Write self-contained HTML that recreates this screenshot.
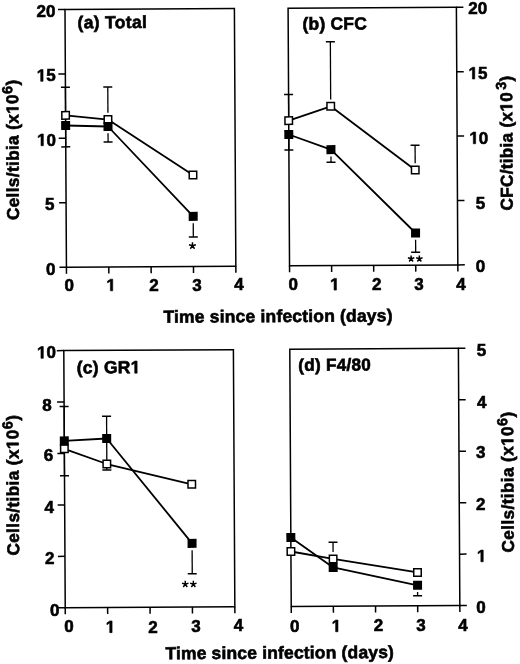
<!DOCTYPE html>
<html><head><meta charset="utf-8"><style>
html,body{margin:0;padding:0;background:#fff;}
svg{display:block;filter:grayscale(1);}
text{font-family:"Liberation Sans", sans-serif;font-weight:bold;fill:#000;stroke:#000;stroke-width:0.6px;}
.o1{fill:none;stroke:none;}
.g1{fill:#000;stroke:#000;stroke-width:0.6px;stroke-linejoin:round;}
</style></head><body>
<svg width="520" height="664" viewBox="0 0 520 664">
<rect width="520" height="664" fill="#fff"/>
<g transform="rotate(-0.3200 260 332)">
<rect x="66.8" y="8.4" width="169.40" height="257.70" fill="none" stroke="#000" stroke-width="1.5"/>
<line x1="66.80" y1="266.1" x2="66.80" y2="272.6" stroke="#000" stroke-width="1.5"/>
<line x1="109.15" y1="266.1" x2="109.15" y2="272.6" stroke="#000" stroke-width="1.5"/>
<line x1="151.50" y1="266.1" x2="151.50" y2="272.6" stroke="#000" stroke-width="1.5"/>
<line x1="193.85" y1="266.1" x2="193.85" y2="272.6" stroke="#000" stroke-width="1.5"/>
<line x1="236.20" y1="266.1" x2="236.20" y2="272.6" stroke="#000" stroke-width="1.5"/>
<line x1="59.8" y1="266.10" x2="66.8" y2="266.10" stroke="#000" stroke-width="1.5"/>
<line x1="59.8" y1="201.68" x2="66.8" y2="201.68" stroke="#000" stroke-width="1.5"/>
<line x1="59.8" y1="137.25" x2="66.8" y2="137.25" stroke="#000" stroke-width="1.5"/>
<line x1="59.8" y1="72.82" x2="66.8" y2="72.82" stroke="#000" stroke-width="1.5"/>
<line x1="59.8" y1="8.40" x2="66.8" y2="8.40" stroke="#000" stroke-width="1.5"/>
<polyline points="66.80,114.30 109.15,118.75 193.85,174.70" fill="none" stroke="#000" stroke-width="1.8" stroke-linejoin="round"/>
<polyline points="66.80,124.40 109.15,125.65 193.85,216.00" fill="none" stroke="#000" stroke-width="1.8" stroke-linejoin="round"/>
<line x1="66.80" y1="114.30" x2="66.80" y2="86.10" stroke="#000" stroke-width="1.3"/>
<line x1="62.30" y1="86.10" x2="71.30" y2="86.10" stroke="#000" stroke-width="1.5"/>
<line x1="66.80" y1="124.40" x2="66.80" y2="145.80" stroke="#000" stroke-width="1.3"/>
<line x1="62.30" y1="145.80" x2="71.30" y2="145.80" stroke="#000" stroke-width="1.5"/>
<line x1="109.15" y1="111.95" x2="109.15" y2="86.15" stroke="#000" stroke-width="1.3"/>
<line x1="104.65" y1="86.15" x2="113.65" y2="86.15" stroke="#000" stroke-width="1.5"/>
<line x1="109.15" y1="132.45" x2="109.15" y2="141.15" stroke="#000" stroke-width="1.3"/>
<line x1="104.65" y1="141.15" x2="113.65" y2="141.15" stroke="#000" stroke-width="1.5"/>
<line x1="193.85" y1="222.80" x2="193.85" y2="236.60" stroke="#000" stroke-width="1.3"/>
<line x1="189.35" y1="236.60" x2="198.35" y2="236.60" stroke="#000" stroke-width="1.5"/>
<rect x="63.05" y="110.55" width="7.50" height="7.50" fill="#fff" stroke="#000" stroke-width="1.5"/>
<rect x="105.40" y="115.00" width="7.50" height="7.50" fill="#fff" stroke="#000" stroke-width="1.5"/>
<rect x="190.10" y="170.95" width="7.50" height="7.50" fill="#fff" stroke="#000" stroke-width="1.5"/>
<rect x="62.30" y="119.90" width="9.00" height="9.00" fill="#000"/>
<rect x="104.65" y="121.15" width="9.00" height="9.00" fill="#000"/>
<rect x="189.35" y="211.50" width="9.00" height="9.00" fill="#000"/>
<rect x="289.9" y="8.4" width="168.30" height="257.60" fill="none" stroke="#000" stroke-width="1.5"/>
<line x1="289.90" y1="266.0" x2="289.90" y2="272.5" stroke="#000" stroke-width="1.5"/>
<line x1="331.97" y1="266.0" x2="331.97" y2="272.5" stroke="#000" stroke-width="1.5"/>
<line x1="374.05" y1="266.0" x2="374.05" y2="272.5" stroke="#000" stroke-width="1.5"/>
<line x1="416.12" y1="266.0" x2="416.12" y2="272.5" stroke="#000" stroke-width="1.5"/>
<line x1="458.20" y1="266.0" x2="458.20" y2="272.5" stroke="#000" stroke-width="1.5"/>
<line x1="458.2" y1="266.00" x2="465.2" y2="266.00" stroke="#000" stroke-width="1.5"/>
<line x1="458.2" y1="201.60" x2="465.2" y2="201.60" stroke="#000" stroke-width="1.5"/>
<line x1="458.2" y1="137.20" x2="465.2" y2="137.20" stroke="#000" stroke-width="1.5"/>
<line x1="458.2" y1="72.80" x2="465.2" y2="72.80" stroke="#000" stroke-width="1.5"/>
<line x1="458.2" y1="8.40" x2="465.2" y2="8.40" stroke="#000" stroke-width="1.5"/>
<polyline points="289.90,120.80 331.97,106.70 416.12,170.87" fill="none" stroke="#000" stroke-width="1.8" stroke-linejoin="round"/>
<polyline points="289.90,134.66 331.97,150.00 416.12,233.87" fill="none" stroke="#000" stroke-width="1.8" stroke-linejoin="round"/>
<line x1="289.90" y1="120.80" x2="289.90" y2="94.76" stroke="#000" stroke-width="1.3"/>
<line x1="285.40" y1="94.76" x2="294.40" y2="94.76" stroke="#000" stroke-width="1.5"/>
<line x1="289.90" y1="134.66" x2="289.90" y2="150.16" stroke="#000" stroke-width="1.3"/>
<line x1="285.40" y1="150.16" x2="294.40" y2="150.16" stroke="#000" stroke-width="1.5"/>
<line x1="331.97" y1="99.90" x2="331.97" y2="42.20" stroke="#000" stroke-width="1.3"/>
<line x1="327.47" y1="42.20" x2="336.47" y2="42.20" stroke="#000" stroke-width="1.5"/>
<line x1="331.97" y1="156.80" x2="331.97" y2="162.70" stroke="#000" stroke-width="1.3"/>
<line x1="327.47" y1="162.70" x2="336.47" y2="162.70" stroke="#000" stroke-width="1.5"/>
<line x1="416.12" y1="164.07" x2="416.12" y2="146.20" stroke="#000" stroke-width="1.3"/>
<line x1="411.62" y1="146.20" x2="420.62" y2="146.20" stroke="#000" stroke-width="1.5"/>
<line x1="416.12" y1="240.67" x2="416.12" y2="253.20" stroke="#000" stroke-width="1.3"/>
<line x1="411.62" y1="253.20" x2="420.62" y2="253.20" stroke="#000" stroke-width="1.5"/>
<rect x="286.15" y="117.05" width="7.50" height="7.50" fill="#fff" stroke="#000" stroke-width="1.5"/>
<rect x="328.22" y="102.95" width="7.50" height="7.50" fill="#fff" stroke="#000" stroke-width="1.5"/>
<rect x="412.38" y="167.12" width="7.50" height="7.50" fill="#fff" stroke="#000" stroke-width="1.5"/>
<rect x="285.40" y="130.16" width="9.00" height="9.00" fill="#000"/>
<rect x="327.47" y="145.50" width="9.00" height="9.00" fill="#000"/>
<rect x="411.62" y="229.37" width="9.00" height="9.00" fill="#000"/>
<rect x="63.7" y="349.5" width="169.60" height="257.20" fill="none" stroke="#000" stroke-width="1.5"/>
<line x1="63.70" y1="606.7" x2="63.70" y2="613.2" stroke="#000" stroke-width="1.5"/>
<line x1="106.10" y1="606.7" x2="106.10" y2="613.2" stroke="#000" stroke-width="1.5"/>
<line x1="148.50" y1="606.7" x2="148.50" y2="613.2" stroke="#000" stroke-width="1.5"/>
<line x1="190.90" y1="606.7" x2="190.90" y2="613.2" stroke="#000" stroke-width="1.5"/>
<line x1="233.30" y1="606.7" x2="233.30" y2="613.2" stroke="#000" stroke-width="1.5"/>
<line x1="56.7" y1="606.70" x2="63.7" y2="606.70" stroke="#000" stroke-width="1.5"/>
<line x1="56.7" y1="555.26" x2="63.7" y2="555.26" stroke="#000" stroke-width="1.5"/>
<line x1="56.7" y1="503.82" x2="63.7" y2="503.82" stroke="#000" stroke-width="1.5"/>
<line x1="56.7" y1="452.38" x2="63.7" y2="452.38" stroke="#000" stroke-width="1.5"/>
<line x1="56.7" y1="400.94" x2="63.7" y2="400.94" stroke="#000" stroke-width="1.5"/>
<line x1="56.7" y1="349.50" x2="63.7" y2="349.50" stroke="#000" stroke-width="1.5"/>
<polyline points="63.70,447.70 106.10,463.15 190.90,483.90" fill="none" stroke="#000" stroke-width="1.8" stroke-linejoin="round"/>
<polyline points="63.70,439.80 106.10,437.65 190.90,543.00" fill="none" stroke="#000" stroke-width="1.8" stroke-linejoin="round"/>
<line x1="63.70" y1="439.80" x2="63.70" y2="405.40" stroke="#000" stroke-width="1.3"/>
<line x1="59.20" y1="405.40" x2="68.20" y2="405.40" stroke="#000" stroke-width="1.5"/>
<line x1="63.70" y1="447.70" x2="63.70" y2="474.60" stroke="#000" stroke-width="1.3"/>
<line x1="59.20" y1="474.60" x2="68.20" y2="474.60" stroke="#000" stroke-width="1.5"/>
<line x1="106.10" y1="437.65" x2="106.10" y2="415.35" stroke="#000" stroke-width="1.3"/>
<line x1="101.60" y1="415.35" x2="110.60" y2="415.35" stroke="#000" stroke-width="1.5"/>
<line x1="106.10" y1="437.65" x2="106.10" y2="463.15" stroke="#000" stroke-width="1.3"/>
<line x1="106.10" y1="463.15" x2="106.10" y2="469.15" stroke="#000" stroke-width="1.3"/>
<line x1="101.60" y1="469.15" x2="110.60" y2="469.15" stroke="#000" stroke-width="1.5"/>
<line x1="190.90" y1="549.80" x2="190.90" y2="573.40" stroke="#000" stroke-width="1.3"/>
<line x1="186.40" y1="573.40" x2="195.40" y2="573.40" stroke="#000" stroke-width="1.5"/>
<rect x="59.95" y="443.95" width="7.50" height="7.50" fill="#fff" stroke="#000" stroke-width="1.5"/>
<rect x="102.35" y="459.40" width="7.50" height="7.50" fill="#fff" stroke="#000" stroke-width="1.5"/>
<rect x="187.15" y="480.15" width="7.50" height="7.50" fill="#fff" stroke="#000" stroke-width="1.5"/>
<rect x="59.20" y="435.30" width="9.00" height="9.00" fill="#000"/>
<rect x="101.60" y="433.15" width="9.00" height="9.00" fill="#000"/>
<rect x="186.40" y="538.50" width="9.00" height="9.00" fill="#000"/>
<rect x="289.7" y="349.4" width="168.60" height="257.30" fill="none" stroke="#000" stroke-width="1.5"/>
<line x1="289.70" y1="606.7" x2="289.70" y2="613.2" stroke="#000" stroke-width="1.5"/>
<line x1="331.85" y1="606.7" x2="331.85" y2="613.2" stroke="#000" stroke-width="1.5"/>
<line x1="374.00" y1="606.7" x2="374.00" y2="613.2" stroke="#000" stroke-width="1.5"/>
<line x1="416.15" y1="606.7" x2="416.15" y2="613.2" stroke="#000" stroke-width="1.5"/>
<line x1="458.30" y1="606.7" x2="458.30" y2="613.2" stroke="#000" stroke-width="1.5"/>
<line x1="458.3" y1="606.70" x2="465.3" y2="606.70" stroke="#000" stroke-width="1.5"/>
<line x1="458.3" y1="555.24" x2="465.3" y2="555.24" stroke="#000" stroke-width="1.5"/>
<line x1="458.3" y1="503.78" x2="465.3" y2="503.78" stroke="#000" stroke-width="1.5"/>
<line x1="458.3" y1="452.32" x2="465.3" y2="452.32" stroke="#000" stroke-width="1.5"/>
<line x1="458.3" y1="400.86" x2="465.3" y2="400.86" stroke="#000" stroke-width="1.5"/>
<line x1="458.3" y1="349.40" x2="465.3" y2="349.40" stroke="#000" stroke-width="1.5"/>
<polyline points="289.70,551.67 331.85,559.31 416.15,573.28" fill="none" stroke="#000" stroke-width="1.8" stroke-linejoin="round"/>
<polyline points="289.70,537.67 331.85,567.81 416.15,586.18" fill="none" stroke="#000" stroke-width="1.8" stroke-linejoin="round"/>
<line x1="331.85" y1="552.51" x2="331.85" y2="542.70" stroke="#000" stroke-width="1.3"/>
<line x1="327.35" y1="542.70" x2="336.35" y2="542.70" stroke="#000" stroke-width="1.5"/>
<line x1="416.15" y1="592.98" x2="416.15" y2="596.70" stroke="#000" stroke-width="1.3"/>
<line x1="411.65" y1="596.70" x2="420.65" y2="596.70" stroke="#000" stroke-width="1.5"/>
<rect x="285.95" y="547.92" width="7.50" height="7.50" fill="#fff" stroke="#000" stroke-width="1.5"/>
<rect x="328.10" y="555.56" width="7.50" height="7.50" fill="#fff" stroke="#000" stroke-width="1.5"/>
<rect x="412.40" y="569.53" width="7.50" height="7.50" fill="#fff" stroke="#000" stroke-width="1.5"/>
<rect x="285.20" y="533.17" width="9.00" height="9.00" fill="#000"/>
<rect x="327.35" y="563.31" width="9.00" height="9.00" fill="#000"/>
<rect x="411.65" y="581.68" width="9.00" height="9.00" fill="#000"/>
</g>
<text x="46.00" y="17.00" font-size="17" text-anchor="middle" >20</text>
<text x="46.21" y="81.31" font-size="17" text-anchor="middle" ><tspan class="o1">1</tspan>5</text><path class="g1" d="M40.71,81.31L40.71,71.60L37.90,73.35L37.90,71.52L40.83,69.61L43.04,69.61L43.04,81.31Z"/>
<text x="46.52" y="145.70" font-size="17" text-anchor="middle" ><tspan class="o1">1</tspan>0</text><path class="g1" d="M41.02,145.70L41.02,135.99L38.21,137.74L38.21,135.91L41.14,134.00L43.35,134.00L43.35,145.70Z"/>
<text x="49.78" y="210.21" font-size="17" text-anchor="middle" >5</text>
<text x="50.61" y="275.05" font-size="17" text-anchor="middle" >0</text>
<text x="69.11" y="290.70" font-size="17" text-anchor="middle" >0</text>
<text x="111.15" y="290.85" font-size="17" text-anchor="middle" ><tspan class="o1">1</tspan></text><path class="g1" d="M110.38,290.85L110.38,281.14L107.58,282.89L107.58,281.06L110.51,279.15L112.72,279.15L112.72,290.85Z"/>
<text x="154.00" y="290.74" font-size="17" text-anchor="middle" >2</text>
<text x="196.91" y="290.64" font-size="17" text-anchor="middle" >3</text>
<text x="239.07" y="289.85" font-size="17" text-anchor="middle" >4</text>
<text x="477.80" y="14.25" font-size="17" text-anchor="middle" >20</text>
<text x="477.91" y="79.01" font-size="17" text-anchor="middle" ><tspan class="o1">1</tspan>5</text><path class="g1" d="M472.41,79.01L472.41,69.30L469.60,71.05L469.60,69.22L472.53,67.31L474.74,67.31L474.74,79.01Z"/>
<text x="478.82" y="143.75" font-size="17" text-anchor="middle" ><tspan class="o1">1</tspan>0</text><path class="g1" d="M473.32,143.75L473.32,134.04L470.51,135.79L470.51,133.96L473.44,132.05L475.65,132.05L475.65,143.75Z"/>
<text x="480.38" y="208.66" font-size="17" text-anchor="middle" >5</text>
<text x="480.56" y="272.20" font-size="17" text-anchor="middle" >0</text>
<text x="293.21" y="290.10" font-size="17" text-anchor="middle" >0</text>
<text x="334.85" y="290.10" font-size="17" text-anchor="middle" ><tspan class="o1">1</tspan></text><path class="g1" d="M334.08,290.10L334.08,280.39L331.28,282.14L331.28,280.31L334.21,278.40L336.42,278.40L336.42,290.10Z"/>
<text x="376.70" y="289.89" font-size="17" text-anchor="middle" >2</text>
<text x="418.96" y="289.74" font-size="17" text-anchor="middle" >3</text>
<text x="461.07" y="289.75" font-size="17" text-anchor="middle" >4</text>
<text x="46.47" y="358.30" font-size="17" text-anchor="middle" ><tspan class="o1">1</tspan>0</text><path class="g1" d="M40.97,358.30L40.97,348.59L38.16,350.34L38.16,348.51L41.09,346.60L43.30,346.60L43.30,358.30Z"/>
<text x="46.89" y="410.60" font-size="17" text-anchor="middle" >8</text>
<text x="48.55" y="460.60" font-size="17" text-anchor="middle" >6</text>
<text x="49.12" y="512.60" font-size="17" text-anchor="middle" >4</text>
<text x="49.80" y="564.34" font-size="17" text-anchor="middle" >2</text>
<text x="54.61" y="615.50" font-size="17" text-anchor="middle" >0</text>
<text x="69.01" y="632.00" font-size="17" text-anchor="middle" >0</text>
<text x="110.50" y="632.65" font-size="17" text-anchor="middle" ><tspan class="o1">1</tspan></text><path class="g1" d="M109.73,632.65L109.73,622.94L106.93,624.69L106.93,622.86L109.86,620.95L112.07,620.95L112.07,632.65Z"/>
<text x="152.90" y="632.54" font-size="17" text-anchor="middle" >2</text>
<text x="195.86" y="632.44" font-size="17" text-anchor="middle" >3</text>
<text x="238.37" y="631.30" font-size="17" text-anchor="middle" >4</text>
<text x="481.48" y="356.21" font-size="17" text-anchor="middle" >5</text>
<text x="481.77" y="407.60" font-size="17" text-anchor="middle" >4</text>
<text x="480.76" y="458.49" font-size="17" text-anchor="middle" >3</text>
<text x="480.85" y="510.39" font-size="17" text-anchor="middle" >2</text>
<text x="481.65" y="561.80" font-size="17" text-anchor="middle" ><tspan class="o1">1</tspan></text><path class="g1" d="M480.88,561.80L480.88,552.09L478.08,553.84L478.08,552.01L481.01,550.10L483.22,550.10L483.22,561.80Z"/>
<text x="481.01" y="612.75" font-size="17" text-anchor="middle" >0</text>
<text x="294.81" y="631.75" font-size="17" text-anchor="middle" >0</text>
<text x="336.40" y="631.75" font-size="17" text-anchor="middle" ><tspan class="o1">1</tspan></text><path class="g1" d="M335.63,631.75L335.63,622.04L332.83,623.79L332.83,621.96L335.76,620.05L337.97,620.05L337.97,631.75Z"/>
<text x="378.40" y="631.39" font-size="17" text-anchor="middle" >2</text>
<text x="420.86" y="631.29" font-size="17" text-anchor="middle" >3</text>
<text x="463.07" y="631.30" font-size="17" text-anchor="middle" >4</text>
<path d="M192.45,245.80L192.45,242.20M192.45,245.80L195.87,244.69M192.45,245.80L194.57,248.71M192.45,245.80L190.33,248.71M192.45,245.80L189.03,244.69" stroke="#000" stroke-width="1.45" fill="none"/>
<path d="M411.10,258.80L411.10,255.45M411.10,258.80L414.29,257.76M411.10,258.80L413.07,261.51M411.10,258.80L409.13,261.51M411.10,258.80L407.91,257.76" stroke="#000" stroke-width="1.45" fill="none"/>
<path d="M419.35,258.80L419.35,255.45M419.35,258.80L422.54,257.76M419.35,258.80L421.32,261.51M419.35,258.80L417.38,261.51M419.35,258.80L416.16,257.76" stroke="#000" stroke-width="1.45" fill="none"/>
<path d="M185.25,584.20L185.25,580.80M185.25,584.20L188.48,583.15M185.25,584.20L187.25,586.95M185.25,584.20L183.25,586.95M185.25,584.20L182.02,583.15" stroke="#000" stroke-width="1.45" fill="none"/>
<path d="M193.35,584.20L193.35,580.80M193.35,584.20L196.58,583.15M193.35,584.20L195.35,586.95M193.35,584.20L191.35,586.95M193.35,584.20L190.12,583.15" stroke="#000" stroke-width="1.45" fill="none"/>
<g transform="rotate(-0.3200 111.95 28.20)"><text x="77.50" y="28.20" font-size="17.5" letter-spacing="0.331">(a) Total</text></g>
<g transform="rotate(-0.3200 334.80 29.60)"><text x="302.50" y="29.60" font-size="17.5" letter-spacing="0.183">(b) CFC</text></g>
<g transform="rotate(-0.3200 107.30 373.30)"><text x="76.70" y="373.30" font-size="17.5" letter-spacing="0.243">(c) GR<tspan class="o1">1</tspan></text><path class="g1" d="M134.75,373.30L134.75,363.30L131.87,365.11L131.87,363.22L134.88,361.26L137.15,361.26L137.15,373.30Z"/></g>
<g transform="rotate(-0.3200 334.60 370.70)"><text x="298.30" y="370.70" font-size="17.2" letter-spacing="0.231">(d) F4/80</text></g>
<g transform="rotate(-0.3200 277.70 322.10)"><text x="163.50" y="322.10" font-size="17.5" letter-spacing="0.179">Time since infection (days)</text></g>
<g transform="rotate(-0.3200 279.40 658.65)"><text x="165.40" y="658.65" font-size="17.5" letter-spacing="0.163">Time since infection (days)</text></g>
<g transform="rotate(-0.3200 18.60 150.05)"><text transform="translate(18.60,220.10) rotate(-90)" x="0" y="0" font-size="17.2" letter-spacing="0.359">Cells/tibia (x<tspan class="o1">1</tspan>0<tspan font-size="14.5" dx="0" dy="-6.0">6</tspan><tspan dy="6.0">)</tspan></text><path class="g1" d="M110.30,0.00L110.30,-9.83L107.46,-8.05L107.46,-9.91L110.42,-11.83L112.66,-11.83L112.66,0.00Z" transform="translate(18.60,220.10) rotate(-90)"/></g>
<g transform="rotate(-0.3200 512.40 143.15)"><text transform="translate(512.40,210.50) rotate(-90)" x="0" y="0" font-size="17.2" letter-spacing="0.280">CFC/tibia (x<tspan class="o1">1</tspan>0<tspan font-size="14.5" dx="2.2" dy="-6.0">3</tspan><tspan dy="6.0">)</tspan></text><path class="g1" d="M102.87,0.00L102.87,-9.83L100.04,-8.05L100.04,-9.91L103.00,-11.83L105.23,-11.83L105.23,0.00Z" transform="translate(512.40,210.50) rotate(-90)"/></g>
<g transform="rotate(-0.3200 18.80 485.45)"><text transform="translate(18.80,555.60) rotate(-90)" x="0" y="0" font-size="17.2" letter-spacing="0.371">Cells/tibia (x<tspan class="o1">1</tspan>0<tspan font-size="14.5" dx="0" dy="-6.0">6</tspan><tspan dy="6.0">)</tspan></text><path class="g1" d="M110.47,0.00L110.47,-9.83L107.63,-8.05L107.63,-9.91L110.59,-11.83L112.83,-11.83L112.83,0.00Z" transform="translate(18.80,555.60) rotate(-90)"/></g>
<g transform="rotate(-0.3200 513.50 482.25)"><text transform="translate(513.50,552.50) rotate(-90)" x="0" y="0" font-size="17.2" letter-spacing="0.382">Cells/tibia (x<tspan class="o1">1</tspan>0<tspan font-size="14.5" dx="0" dy="-6.0">6</tspan><tspan dy="6.0">)</tspan></text><path class="g1" d="M110.61,0.00L110.61,-9.83L107.77,-8.05L107.77,-9.91L110.73,-11.83L112.97,-11.83L112.97,0.00Z" transform="translate(513.50,552.50) rotate(-90)"/></g>

</svg>
</body></html>
